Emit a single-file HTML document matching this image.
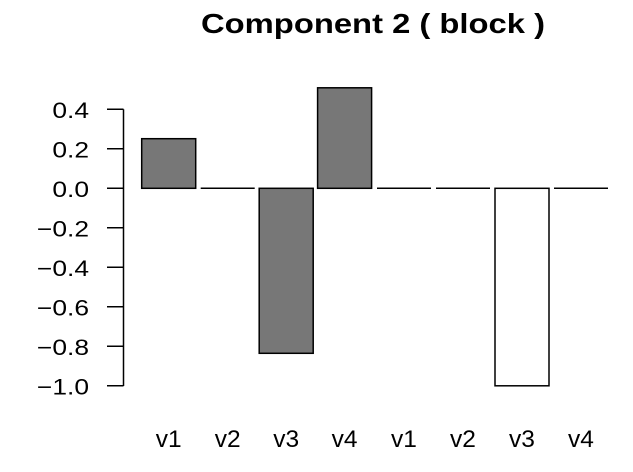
<!DOCTYPE html>
<html><head><style>body{margin:0;background:#fff}svg{display:block}</style></head><body>
<svg width="633" height="472" xmlns="http://www.w3.org/2000/svg" font-family="Liberation Sans, sans-serif">
<text x="201" y="33" font-size="28" font-weight="bold" textLength="344" lengthAdjust="spacingAndGlyphs">Component 2 ( block )</text>
<g stroke="#000" stroke-width="1.5">
<line x1="123.5" y1="109.3" x2="123.5" y2="386"/>
<line x1="107" y1="109.3" x2="123.5" y2="109.3"/>
<line x1="107" y1="148.8" x2="123.5" y2="148.8"/>
<line x1="107" y1="188.3" x2="123.5" y2="188.3"/>
<line x1="107" y1="227.8" x2="123.5" y2="227.8"/>
<line x1="107" y1="267.3" x2="123.5" y2="267.3"/>
<line x1="107" y1="306.8" x2="123.5" y2="306.8"/>
<line x1="107" y1="346.3" x2="123.5" y2="346.3"/>
<line x1="107" y1="385.8" x2="123.5" y2="385.8"/>
<rect x="141.7" y="138.7" width="54" height="49.6" fill="#777"/>
<line x1="200.7" y1="188.3" x2="254.7" y2="188.3"/>
<rect x="259.2" y="188.3" width="54" height="165" fill="#777"/>
<rect x="317.6" y="87.8" width="54" height="100.5" fill="#777"/>
<line x1="377" y1="188.3" x2="431" y2="188.3"/>
<line x1="436" y1="188.3" x2="490" y2="188.3"/>
<rect x="495" y="188.3" width="54" height="197.5" fill="#fff"/>
<line x1="554" y1="188.3" x2="608" y2="188.3"/>
</g>
<g font-size="22" text-anchor="end">
<text transform="translate(89,118) scale(1.2,1)">0.4</text>
<text transform="translate(89,157.5) scale(1.2,1)">0.2</text>
<text transform="translate(89,197) scale(1.2,1)">0.0</text>
<text transform="translate(89,236.5) scale(1.2,1)">−0.2</text>
<text transform="translate(89,276) scale(1.2,1)">−0.4</text>
<text transform="translate(89,315.5) scale(1.2,1)">−0.6</text>
<text transform="translate(89,355) scale(1.2,1)">−0.8</text>
<text transform="translate(89,394.5) scale(1.2,1)">−1.0</text>
</g>
<g font-size="24.5" text-anchor="middle">
<text x="168.7" y="447">v1</text>
<text x="227.7" y="447">v2</text>
<text x="286.2" y="447">v3</text>
<text x="344.6" y="447">v4</text>
<text x="404" y="447">v1</text>
<text x="463" y="447">v2</text>
<text x="522" y="447">v3</text>
<text x="581" y="447">v4</text>
</g>
</svg>
</body></html>
